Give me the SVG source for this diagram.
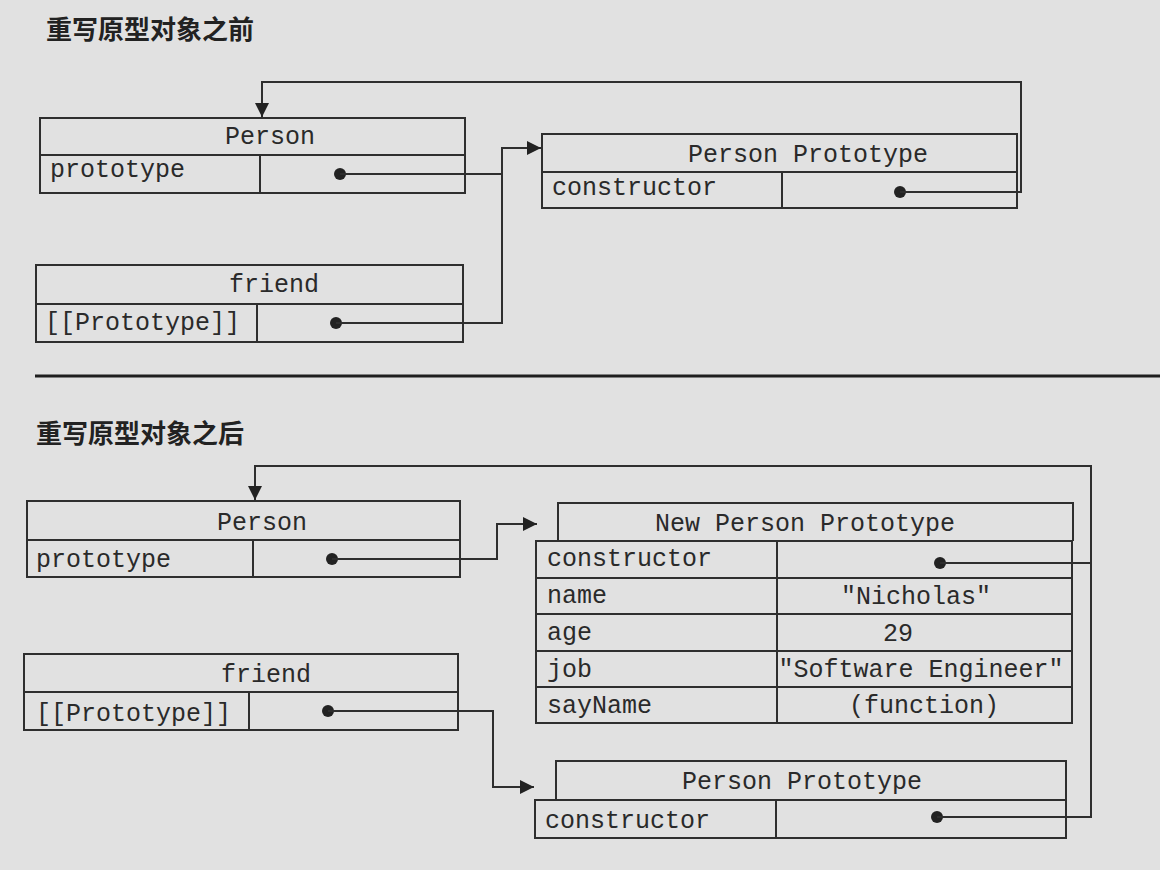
<svg xmlns="http://www.w3.org/2000/svg" width="1160" height="870" viewBox="0 0 1160 870">
<style>
.bg{fill:#e1e1e1}
.box{fill:none;stroke:#2e2e2e;stroke-width:2}
.conn{fill:none;stroke:#2e2e2e;stroke-width:2}
.dot{fill:#222}
.t{font-family:"Liberation Mono","DejaVu Sans Mono",monospace;font-size:25px;fill:#2a2a2a}
.c{text-anchor:middle}
.title{font-family:"Noto Sans CJK SC","Noto Sans",sans-serif;font-size:26px;font-weight:bold;fill:#222}
</style>
<defs>
<marker id="arr" markerUnits="userSpaceOnUse" markerWidth="16" markerHeight="16" refX="14" refY="7" orient="auto">
<path d="M0,0 L14,7 L0,14 Z" fill="#222"/>
</marker>
</defs>
<rect class="bg" x="0" y="0" width="1160" height="870"/>

<text class="title" x="46" y="39">重写原型对象之前</text>
<line x1="35" y1="376" x2="1160" y2="376" stroke="#1e1e1e" stroke-width="3"/>
<text class="title" x="36" y="443">重写原型对象之后</text>

<g id="person-before">
<rect class="box" x="40" y="118" width="425" height="75"/>
<line class="box" x1="40" y1="155" x2="465" y2="155"/>
<line class="box" x1="260" y1="155" x2="260" y2="193"/>
<text class="t c" x="270" y="144">Person</text>
<text class="t" x="50" y="177">prototype</text>
<circle class="dot" cx="340" cy="174" r="6"/>
</g>

<g id="friend-before">
<rect class="box" x="36" y="265" width="427" height="77"/>
<line class="box" x1="36" y1="304" x2="463" y2="304"/>
<line class="box" x1="257" y1="304" x2="257" y2="342"/>
<text class="t c" x="274" y="292">friend</text>
<text class="t" x="45" y="330">[[Prototype]]</text>
<circle class="dot" cx="336" cy="323" r="6"/>
</g>

<g id="person-prototype-before">
<rect class="box" x="542" y="134" width="475" height="74"/>
<line class="box" x1="542" y1="172" x2="1017" y2="172"/>
<line class="box" x1="782" y1="172" x2="782" y2="208"/>
<text class="t c" x="808" y="162">Person Prototype</text>
<text class="t" x="552" y="195">constructor</text>
<circle class="dot" cx="900" cy="192" r="6"/>
</g>

<g id="person-after">
<rect class="box" x="27" y="501" width="433" height="76"/>
<line class="box" x1="27" y1="540" x2="460" y2="540"/>
<line class="box" x1="253" y1="540" x2="253" y2="577"/>
<text class="t c" x="262" y="530">Person</text>
<text class="t" x="36" y="567">prototype</text>
<circle class="dot" cx="332" cy="559" r="6"/>
</g>

<g id="new-person-prototype">
<polyline class="box" points="558,541 558,503 1073,503 1073,541"/>
<rect class="box" x="536" y="541" width="536" height="182"/>
<line class="box" x1="536" y1="578" x2="1072" y2="578"/>
<line class="box" x1="536" y1="614" x2="1072" y2="614"/>
<line class="box" x1="536" y1="651" x2="1072" y2="651"/>
<line class="box" x1="536" y1="687" x2="1072" y2="687"/>
<line class="box" x1="777" y1="541" x2="777" y2="723"/>
<text class="t c" x="805" y="531">New Person Prototype</text>
<text class="t" x="547" y="566">constructor</text>
<text class="t" x="547" y="603">name</text>
<text class="t" x="547" y="640">age</text>
<text class="t" x="547" y="677">job</text>
<text class="t" x="547" y="713">sayName</text>
<text class="t c" x="916" y="604">"Nicholas"</text>
<text class="t c" x="898" y="641">29</text>
<text class="t c" x="921" y="677">"Software Engineer"</text>
<text class="t c" x="924" y="713">(function)</text>
<circle class="dot" cx="940" cy="563" r="6"/>
</g>

<g id="friend-after">
<rect class="box" x="24" y="654" width="434" height="76"/>
<line class="box" x1="24" y1="692" x2="458" y2="692"/>
<line class="box" x1="249" y1="692" x2="249" y2="730"/>
<text class="t c" x="266" y="682">friend</text>
<text class="t" x="36" y="721">[[Prototype]]</text>
<circle class="dot" cx="328" cy="711" r="6"/>
</g>

<g id="person-prototype-after">
<polyline class="box" points="556,800 556,761 1066,761 1066,800"/>
<rect class="box" x="535" y="800" width="531" height="38"/>
<line class="box" x1="776" y1="800" x2="776" y2="838"/>
<text class="t c" x="802" y="789">Person Prototype</text>
<text class="t" x="545" y="828">constructor</text>
<circle class="dot" cx="937" cy="817" r="6"/>
</g>

<g id="connectors">
<path class="conn" d="M340,174 H502 V148 H541" marker-end="url(#arr)"/>
<path class="conn" d="M336,323 H502 V148"/>
<path class="conn" d="M900,192 H1021 V82 H262 V117" marker-end="url(#arr)"/>
<path class="conn" d="M332,559 H497 V524 H537" marker-end="url(#arr)"/>
<path class="conn" d="M328,711 H493 V787 H534" marker-end="url(#arr)"/>
<path class="conn" d="M940,563 H1091"/>
<path class="conn" d="M937,817 H1091 V466 H255 V500" marker-end="url(#arr)"/>
</g>
</svg>
